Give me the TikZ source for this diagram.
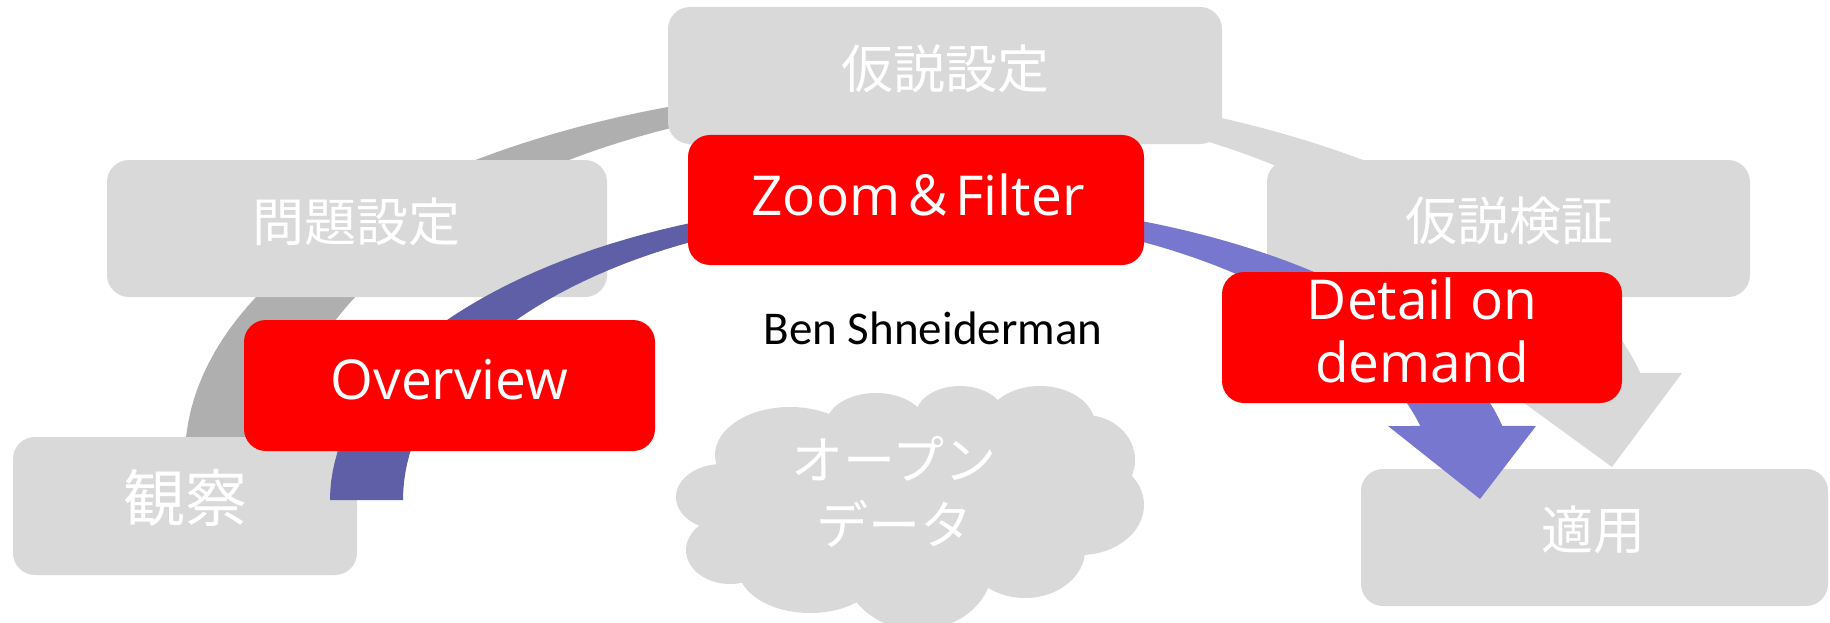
\documentclass[tikz,border=0pt]{standalone}
\usepackage{fontspec}
\newfontfamily\jp{Noto Sans CJK JP}
\newfontfamily\lat{Open Sans}
\newfontfamily\carl{Carlito}

\definecolor{boxgray}{HTML}{D9D9D9}
\definecolor{arcdark}{HTML}{AFAFAF}
\definecolor{bluedark}{HTML}{5F5FA8}
\definecolor{bluelight}{HTML}{7777D0}
\definecolor{hotred}{HTML}{FF0000}

\begin{document}
\begin{tikzpicture}[x=1pt,y=-1pt,
  graybox/.style={fill=boxgray, rounded corners=22pt, inner sep=0pt},
  redbox/.style={fill=hotred, rounded corners=22pt, inner sep=0pt},
  jplabel/.style={text=white, font=\jp\fontsize{52}{65}\selectfont, inner sep=0pt, align=center},
  enlabel/.style={text=white, font=\lat\fontsize{55}{63}\selectfont, inner sep=0pt, align=center},
  puff/.style={fill=boxgray}]

\useasboundingbox (0,0) rectangle (1830,623);

% grey process arc: darker left half, lighter right half ending in an arrowhead
\fill[arcdark]
  plot[domain=90:180, samples=50] ({915+730*cos(\x)},{457-372*sin(\x)})
  -- plot[domain=180:90, samples=50] ({915+640*cos(\x)},{483-384*sin(\x)}) -- cycle;
\fill[boxgray]
  plot[domain=90:13.2, samples=50] ({915+745*cos(\x)},{458-373*sin(\x)})
  -- (1682,373) -- (1612,467) -- (1483,373)
  -- plot[domain=16.6:90, samples=50] ({915+640*cos(\x)},{483-384*sin(\x)}) -- cycle;

% process steps
\node[graybox, minimum width=554pt, minimum height=137pt] (hyp)  at (945,75.5) {};
\node[graybox, minimum width=500pt, minimum height=137pt] (prob) at (357,228.5) {};
\node[graybox, minimum width=483pt, minimum height=137pt] (test) at (1508.5,228.5) {};
\node[graybox, minimum width=344pt, minimum height=138pt] (obs)  at (185,506) {};
\node[graybox, minimum width=467pt, minimum height=137pt] (app)  at (1594.5,537.5) {};

\node[jplabel] (hypT)  at (945,69)     {仮説設定};
\node[jplabel] (probT) at (356,221.5)  {問題設定};
\node[jplabel] (testT) at (1509,220.5) {仮説検証};
\node[jplabel, font=\jp\fontsize{62}{70}\selectfont] (obsT) at (185,497.5) {観察};
\node[jplabel] (appT)  at (1593,530)   {適用};

% open data cloud
\fill[puff] (722,497) ellipse [x radius=46, y radius=33];
\fill[puff] (790,455) ellipse [x radius=75, y radius=48];
\fill[puff] (876,425) ellipse [x radius=50, y radius=32];
\fill[puff] (960,415) ellipse [x radius=44, y radius=29];
\fill[puff] (1040,425) ellipse [x radius=55, y radius=39];
\fill[puff] (1085,460) ellipse [x radius=50, y radius=45];
\fill[puff] (1080,505) ellipse [x radius=64, y radius=50];
\fill[puff] (1025,550) ellipse [x radius=60, y radius=48];
\fill[puff] (918,565) ellipse [x radius=75, y radius=65];
\fill[puff] (810,568) ellipse [x radius=72, y radius=45];
\fill[puff] (730,550) ellipse [x radius=44, y radius=34];
\fill[puff] (910,500) ellipse [x radius=200, y radius=85];
\node[jplabel] (cloudT) at (894,491.6) {オープン\\データ};

% Shneiderman mantra arc
\fill[bluedark]
  plot[domain=90:180, samples=50] ({915+585*cos(\x)},{500-300*sin(\x)})
  -- plot[domain=180:90, samples=50] ({915+512*cos(\x)},{500-287*sin(\x)}) -- cycle;
\fill[bluelight]
  plot[domain=90:11.8, samples=50] ({915+600*cos(\x)},{484-284*sin(\x)})
  -- (1536,426) -- (1480,499) -- (1388,426)
  -- plot[domain=15.7:90, samples=50] ({915+525*cos(\x)},{505-292*sin(\x)}) -- cycle;

\node[redbox, minimum width=456pt, minimum height=130pt] (zoom)   at (916,200) {};
\node[redbox, minimum width=411pt, minimum height=131pt] (over)   at (449.5,385.5) {};
\node[redbox, minimum width=400pt, minimum height=131pt] (detail) at (1422,337.5) {};

\node[enlabel, anchor=base] (zoomT) at (918,215) {Zoom{\jp ＆}Filter};
\node[enlabel, anchor=base] (overT) at (449.5,399) {Overview};
\node[enlabel] (detailT) at (1422,330.5) {Detail on\\demand};

\node[anchor=base, inner sep=0pt, font=\carl\fontsize{47}{56}\selectfont] (ben) at (933,344) {Ben Shneiderman};
\end{tikzpicture}
\end{document}
